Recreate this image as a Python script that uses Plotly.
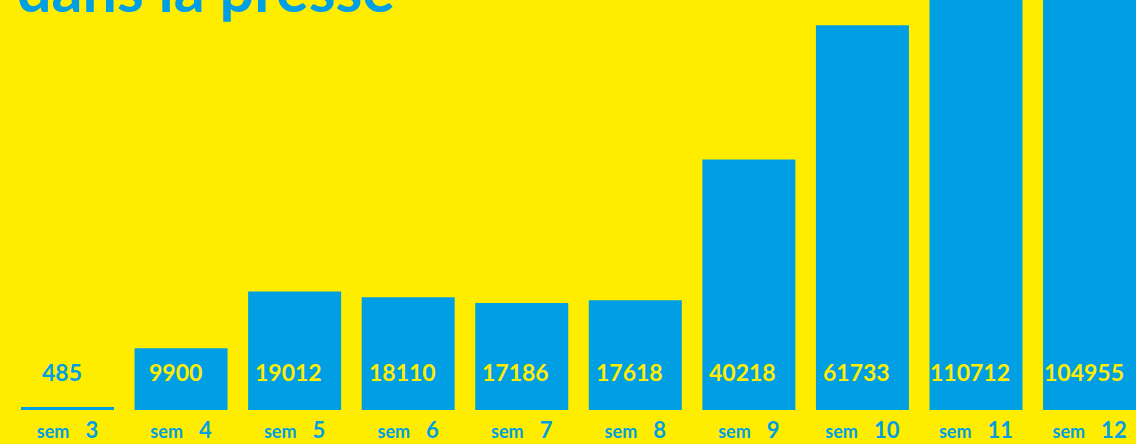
import plotly.graph_objects as go

weeks = [3, 4, 5, 6, 7, 8, 9, 10, 11, 12]
values = [485, 9900, 19012, 18110, 17186, 17618, 40218, 61733, 110712, 104955]
week_labels = [f"<b><span style='font-size:18px'>sem</span>   {w}</b>" for w in weeks]
title_text = "dans la presse"

BLUE = "#009FE3"
YELLOW = "#FFED00"
FONT = "Lato"

fig = go.Figure()
fig.add_trace(go.Bar(
    x=weeks, y=values, width=0.819,
    marker=dict(color=BLUE, line=dict(width=0)),
    hoverinfo="skip",
))

for w, v in zip(weeks, values):
    fig.add_annotation(
        x=w, xref="x", y=0.0927, yref="paper", yanchor="middle",
        text=f"<b>{v}</b>", showarrow=False, xshift=-6,
        font=dict(family=FONT, size=23, color=YELLOW if v > 5000 else BLUE),
    )

fig.add_annotation(
    x=15 / 1136, xref="paper", xanchor="left",
    y=0.934, yref="paper", yanchor="bottom",
    text=f"<b>{title_text}</b>", showarrow=False,
    font=dict(family=FONT, size=61, color=BLUE),
)

fig.update_layout(
    width=1136, height=444,
    margin=dict(l=0, r=0, t=0, b=34, pad=0),
    paper_bgcolor=YELLOW, plot_bgcolor=YELLOW,
    showlegend=False,
    xaxis=dict(
        range=[2.4056, 12.409], tickvals=weeks, ticktext=week_labels,
        showgrid=False, zeroline=False, showline=False, ticks="",
        tickfont=dict(family=FONT, size=22, color=BLUE),
        ticklabelstandoff=5,
    ),
    yaxis=dict(range=[0, 65800], visible=False, showgrid=False, zeroline=False),
)

fig.write_html("out.html")
